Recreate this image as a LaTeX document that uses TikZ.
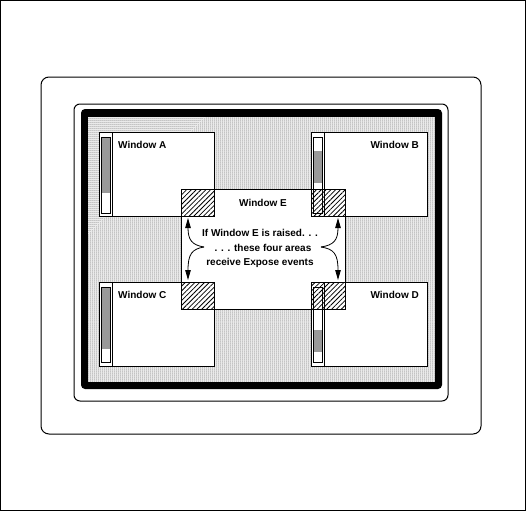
\documentclass[tikz,border=0pt]{standalone}
\usepackage{fontspec}
\setmainfont{Liberation Sans}
\usetikzlibrary{patterns.meta,arrows.meta}
\begin{document}
\begin{tikzpicture}[x=1pt,y=-1pt,
  edge/.style={draw=black,line width=1pt},
  stipple/.style={pattern={Dots[distance=2pt,radius=0.5pt]},pattern color=black},
  checker/.style={fill=black!40},
  hatch/.style={pattern={Lines[angle=45,distance=3.4pt,line width=0.8pt]},pattern color=black},
  title/.style={font=\fontsize{10}{12}\selectfont\bfseries,inner sep=0pt},
  msg/.style={font=\fontsize{10}{12}\selectfont\bfseries,inner sep=0pt},
  pointer/.style={line width=0.8pt,-{Triangle[length=10pt,width=5.5pt]}}]
\useasboundingbox (0,0) rectangle (526,511);
% outer frame
\draw[line width=1pt] (0.5,0.5) rectangle (525.5,510.5);
% monitor
\draw[line width=1pt,rounded corners=8pt] (41,77) rectangle (481,434);
\draw[line width=1pt,rounded corners=6pt] (74,104) rectangle (448,401);
\fill[black,rounded corners=4pt] (81,109) rectangle (442,389);
\fill[white] (88,117) rectangle (435,382);
\path[stipple] (88,117) rectangle (435,382);
% window fills
\fill[white] (181,189) rectangle (345,309);
\fill[white] (99,132) rectangle (214,216);
\fill[white] (311,132) rectangle (427,216);
\fill[white] (99,282) rectangle (214,366);
\fill[white] (311,282) rectangle (427,366);
% scrollbar thumbs
\fill[checker] (101.5,137) rectangle (110.5,193);
\fill[checker] (313.5,151) rectangle (322.5,183);
\fill[checker] (101.5,287) rectangle (110.5,349);
\fill[checker] (313.5,330) rectangle (322.5,352);
% exposed areas
\path[hatch] (181,189) rectangle (214,216);
\path[hatch] (311,189) rectangle (345,216);
\path[hatch] (181,282) rectangle (214,309);
\path[hatch] (311,282) rectangle (345,309);
% outlines
\draw[edge] (181,189) rectangle (345,309);
\draw[edge] (99,132) rectangle (214,216);
\draw[edge] (311,132) rectangle (427,216);
\draw[edge] (99,282) rectangle (214,366);
\draw[edge] (311,282) rectangle (427,366);
\draw[edge] (112.5,132) -- (112.5,216);
\draw[edge] (324.5,132) -- (324.5,216);
\draw[edge] (112.5,282) -- (112.5,366);
\draw[edge] (324.5,282) -- (324.5,366);
\draw[edge] (101.5,137) rectangle (110.5,213);
\draw[edge] (313.5,137) rectangle (322.5,213);
\draw[edge] (101.5,287) rectangle (110.5,362);
\draw[edge] (313.5,287) rectangle (322.5,362);
% titles
\node[title,anchor=base west] (ta) at (118,148) {Window A};
\node[title,anchor=base east] (tb) at (419,148) {Window B};
\node[title,anchor=base west] (tc) at (118,298) {Window C};
\node[title,anchor=base east] (td) at (419,298) {Window D};
\node[title,anchor=base] (te) at (263,206) {Window E};
% message
\node[msg,anchor=base] (m1) at (260,236) {If Window E is raised. . .};
\node[msg,anchor=base] (m2) at (263,251) {. . . these four areas};
\node[msg,anchor=base] (m3) at (260,265) {receive Expose events};
% arrows
\coordinate (lsrc) at (204,247);
\coordinate (rsrc) at (321,247);
\coordinate (ltip) at (188,218);
\coordinate (lbot) at (188,280);
\coordinate (rtip) at (338,218);
\coordinate (rbot) at (338,280);
\draw[pointer] (lsrc) .. controls (192,245) and (188,240) .. (ltip);
\draw[pointer] (lsrc) .. controls (192,249) and (188,254) .. (lbot);
\draw[pointer] (rsrc) .. controls (334,245) and (338,240) .. (rtip);
\draw[pointer] (rsrc) .. controls (334,249) and (338,254) .. (rbot);
\end{tikzpicture}
\end{document}
